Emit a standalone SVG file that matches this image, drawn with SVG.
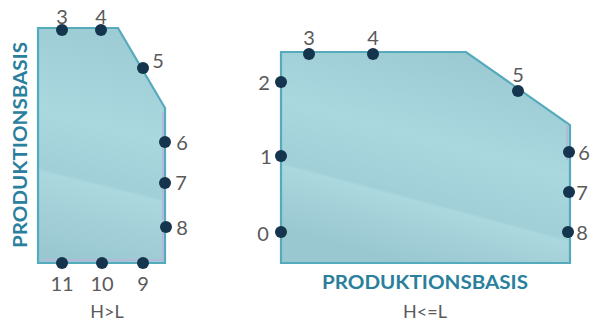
<svg xmlns="http://www.w3.org/2000/svg" width="598" height="325" viewBox="0 0 598 325">
<defs>
<linearGradient id="fillL" gradientUnits="userSpaceOnUse" x1="101" y1="28" x2="101" y2="263" gradientTransform="rotate(14 101 185)">
<stop offset="0" stop-color="#9ccbd4"/>
<stop offset="0.42" stop-color="#a9d8df"/>
<stop offset="0.66" stop-color="#a0cfd7"/>
<stop offset="0.675" stop-color="#abd7de"/>
<stop offset="1" stop-color="#9ac8d1"/>
</linearGradient>
<linearGradient id="fillR" gradientUnits="userSpaceOnUse" x1="425" y1="50" x2="425" y2="265" gradientTransform="rotate(15 425 202)">
<stop offset="0" stop-color="#9ccad3"/>
<stop offset="0.42" stop-color="#a9d8df"/>
<stop offset="0.70" stop-color="#a0cfd7"/>
<stop offset="0.715" stop-color="#abd7de"/>
<stop offset="1" stop-color="#9ac8d1"/>
</linearGradient>
<style>
.shape{stroke:#55aabb;stroke-width:2.2;stroke-linejoin:miter}
.tint{fill:none;stroke:#b2b9d9;stroke-width:2}
.dot{fill:#15344d}
.num{font-family:Lato,"Liberation Sans",sans-serif;font-size:20px;font-weight:400;fill:#5a5a5a;text-anchor:middle}
.axis{font-family:Lato,"Liberation Sans",sans-serif;font-size:18px;font-weight:bold;fill:#2a809c;text-anchor:middle}
.cap{font-family:Lato,"Liberation Sans",sans-serif;font-size:18px;font-weight:400;fill:#5a5a5a;text-anchor:middle}
</style>
</defs>
<g id="left-shape">
<polygon class="shape" fill="url(#fillL)" points="38,28 118,28 165,108 165,263 38,263"/>
<polyline class="tint" points="163,112 163,260 42,260"/>
</g>
<g id="left-axis">
<text class="axis" x="0" y="0" transform="translate(27,145) rotate(-90)" textLength="206" lengthAdjust="spacingAndGlyphs">PRODUKTIONSBASIS</text>
</g>
<g id="left-points">
<circle class="dot" cx="62" cy="30" r="6"/><text class="num" x="62" y="24">3</text>
<circle class="dot" cx="101" cy="30" r="6"/><text class="num" x="101" y="24">4</text>
<circle class="dot" cx="143" cy="68" r="6"/><text class="num" x="158" y="68">5</text>
<circle class="dot" cx="165" cy="142" r="6"/><text class="num" x="182" y="150">6</text>
<circle class="dot" cx="165" cy="183" r="6"/><text class="num" x="181" y="190">7</text>
<circle class="dot" cx="166" cy="227" r="6"/><text class="num" x="182" y="235">8</text>
<circle class="dot" cx="143" cy="263" r="6"/><text class="num" x="143" y="291">9</text>
<circle class="dot" cx="102" cy="263" r="6"/><text class="num" x="102" y="291">10</text>
<circle class="dot" cx="62" cy="263" r="6"/><text class="num" x="62" y="291">11</text>
<text class="cap" x="107" y="318">H&gt;L</text>
</g>
<g id="right-shape">
<polygon class="shape" fill="url(#fillR)" points="281,52 466,52 570,125 570,263 281,263"/>
<line class="tint" x1="567" y1="124" x2="567" y2="160"/>
</g>
<g id="right-axis">
<text class="axis" x="425" y="289" textLength="206" lengthAdjust="spacingAndGlyphs">PRODUKTIONSBASIS</text>
</g>
<g id="right-points">
<circle class="dot" cx="309" cy="54" r="6"/><text class="num" x="309" y="45">3</text>
<circle class="dot" cx="373" cy="54" r="6"/><text class="num" x="373" y="45">4</text>
<circle class="dot" cx="281" cy="82" r="6"/><text class="num" x="264" y="90">2</text>
<circle class="dot" cx="281" cy="156" r="6"/><text class="num" x="266" y="164">1</text>
<circle class="dot" cx="281" cy="232" r="6"/><text class="num" x="263" y="241">0</text>
<circle class="dot" cx="518" cy="91" r="6"/><text class="num" x="518" y="82">5</text>
<circle class="dot" cx="569" cy="152" r="6"/><text class="num" x="584" y="160">6</text>
<circle class="dot" cx="569" cy="192" r="6"/><text class="num" x="582" y="200">7</text>
<circle class="dot" cx="568" cy="232" r="6"/><text class="num" x="582" y="240">8</text>
<text class="cap" x="425" y="318">H&lt;=L</text>
</g>
</svg>
